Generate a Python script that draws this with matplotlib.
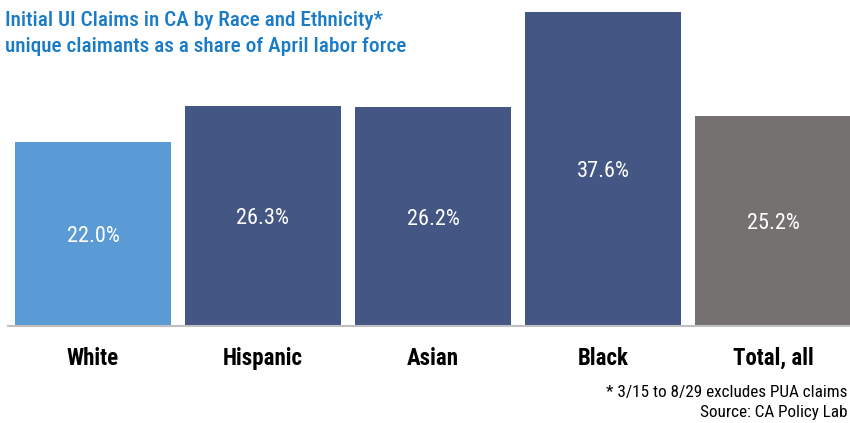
import matplotlib.pyplot as plt

categories = ["White", "Hispanic", "Asian", "Black", "Total, all"]
shares = [22.0, 26.3, 26.2, 37.6, 25.2]
bar_colors = ["#5b9bd5", "#435684", "#435684", "#435684", "#767171"]

plt.rcParams["font.family"] = ["Roboto Condensed", "DejaVu Sans"]

W, H = 850, 423
fig = plt.figure(figsize=(W / 100, H / 100), dpi=100)
ax = fig.add_axes([8 / W, (H - 326) / H, 842 / W, 314 / H])

x = range(len(categories))
bars = ax.bar(x, shares, width=0.918, color=bar_colors, zorder=2)
ax.set_xlim(-0.5, 4.453)
ax.set_ylim(0, 37.6)

for rect, val in zip(bars, shares):
    ax.text(rect.get_x() + rect.get_width() / 2, val / 2, f"{val:.1f}%",
            ha="center", va="center_baseline", color="white",
            fontsize=16, fontweight="normal")

for s in ["top", "right", "left"]:
    ax.spines[s].set_visible(False)
ax.spines["bottom"].set_color("#bfbfbf")
ax.spines["bottom"].set_linewidth(1.5)
ax.set_yticks([])
ax.set_xticks(list(x))
ax.set_xticklabels(categories, fontsize=16.5, fontweight="bold")
ax.tick_params(axis="x", length=0, pad=15)

title_color = "#1a7cc7"
fig.text(5 / W, 1 - 20 / H, "Initial UI Claims in CA by Race and Ethnicity*",
         color=title_color, fontsize=15.3, fontweight="medium", va="center", ha="left")
fig.text(5 / W, 1 - 47 / H, "unique claimants as a share of April labor force",
         color=title_color, fontsize=15.3, fontweight="medium", va="center", ha="left")

# footnotes, right-aligned at the figure edge
fig.text(848 / W, 1 - 392 / H, "* 3/15 to 8/29 excludes PUA claims",
         fontsize=12.3, va="center", ha="right")
fig.text(848 / W, 1 - 412 / H, "Source: CA Policy Lab",
         fontsize=12.3, va="center", ha="right")

fig.savefig("out.png", dpi=100)
